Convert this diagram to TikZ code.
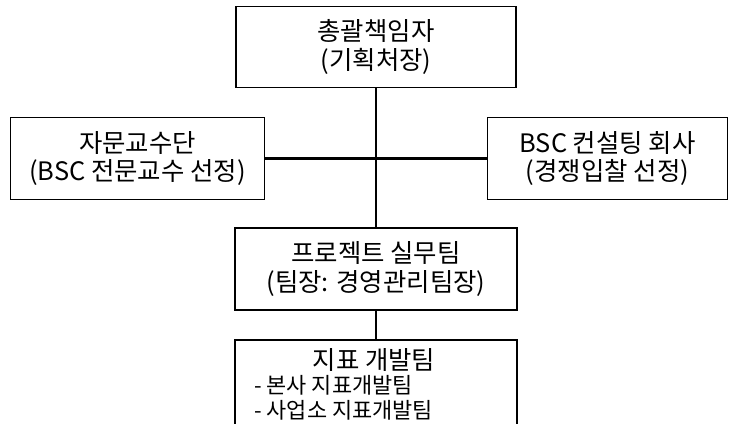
\documentclass[tikz,border=0pt]{standalone}
\usepackage{fontspec}
\setmainfont{Noto Sans CJK KR}
\begin{document}
\begin{tikzpicture}[x=1bp,y=-1bp,
  box/.style={draw,line width=1.6bp,inner sep=0pt,align=center,font=\fontsize{25.5}{29}\selectfont},
  sub/.style={font=\fontsize{22}{25}\selectfont,anchor=west,inner sep=0pt},
  conn/.style={line width=2.6bp}]
\useasboundingbox (0,0) rectangle (732,423);
\clip (0,0) rectangle (732,423);
\node[box,minimum width=280bp,minimum height=81bp] (top) at (376,47) {총괄책임자\\(기획처장)};
\node[box,minimum width=254bp,minimum height=82bp] (left) at (137.5,158.5) {자문교수단\\(BSC 전문교수 선정)};
\node[box,minimum width=240bp,minimum height=82bp] (right) at (607.5,158.5) {BSC 컨설팅 회사\\(경쟁입찰 선정)};
\node[box,minimum width=282bp,minimum height=82bp] (mid) at (376,269) {프로젝트 실무팀\\(팀장: 경영관리팀장)};
\node[box,minimum width=282bp,minimum height=110bp] (bot) at (376,395) {};
\node[font=\fontsize{25.5}{29}\selectfont,inner sep=0pt] (bt) at (374,360) {지표 개발팀};
\node[sub] (b1) at (254,385) {- 본사 지표개발팀};
\node[sub] (b2) at (254,410) {- 사업소 지표개발팀};
\draw[conn] (top.south) -- (mid.north);
\draw[conn] (left.east) -- (right.west);
\draw[conn] (mid.south) -- (bot.north);
\end{tikzpicture}
\end{document}
